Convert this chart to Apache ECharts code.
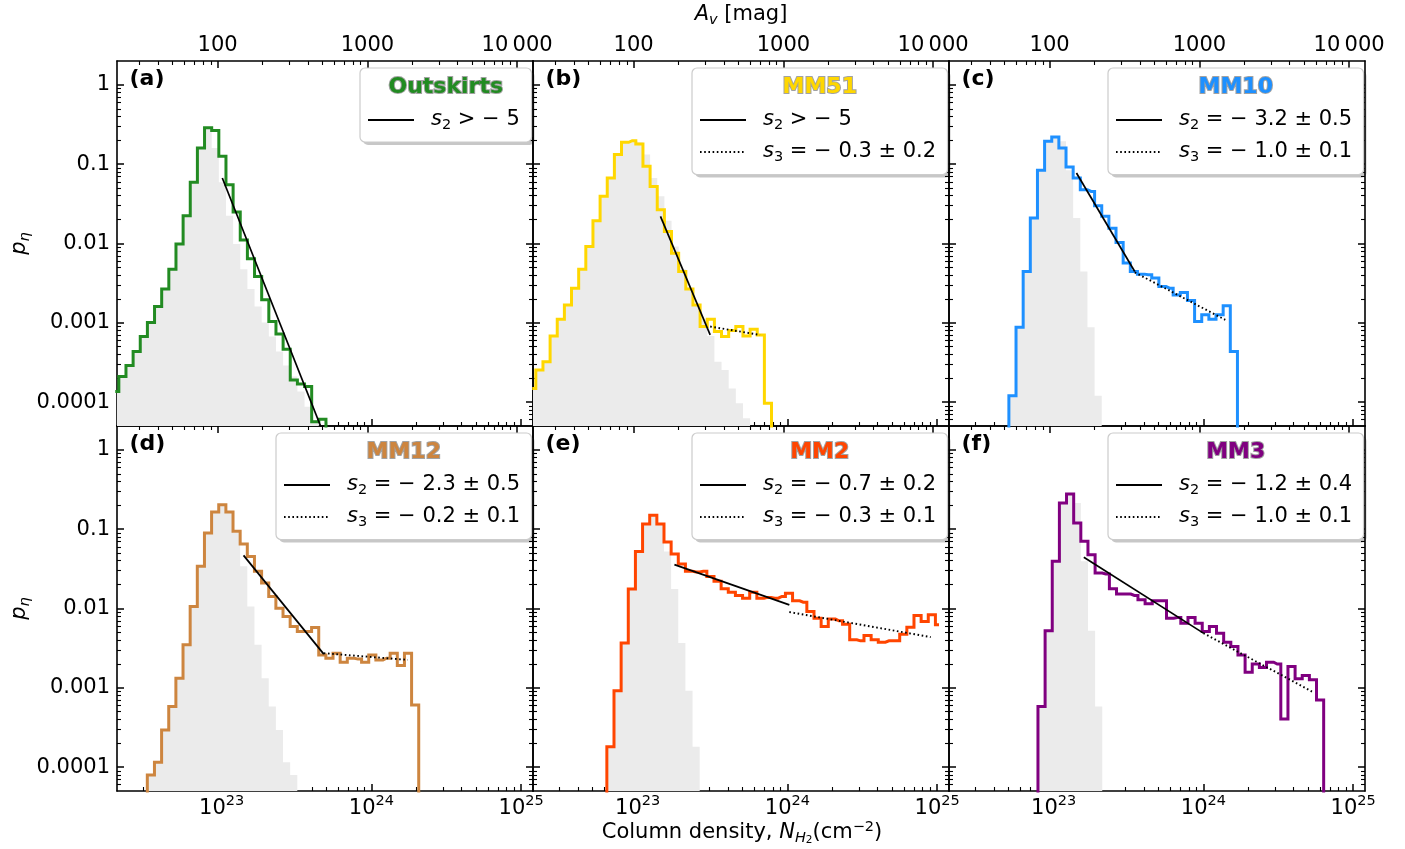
<!DOCTYPE html>
<html><head><meta charset="utf-8">
<script src="https://cdn.jsdelivr.net/npm/echarts@6/dist/echarts.min.js"></script>
<style>html,body{margin:0;padding:0;background:#fff}#chart{width:1405px;height:849px}</style>
</head><body><div id="chart"></div>
<script>
// ================= DATA =================
const regionNames   = ['Outskirts', 'MM51', 'MM10', 'MM12', 'MM2', 'MM3'];
const panelLetters  = ['(a)', '(b)', '(c)', '(d)', '(e)', '(f)'];
const regionColors  = ['#228B22', '#FFD700', '#1E90FF', '#CD853F', '#FF4500', '#800080'];
// histogram bins: width in dex, and log10 N of the centre of the first listed bin
const binWidthDex    = 0.0477;
const firstBinCentre = [22.2894, 22.2960, 22.6771, 22.4796, 22.7704, 22.8713];

// p_eta per bin (0 = empty bin)
const pdfOutskirts  = [0.000136,0.000210,0.000289,0.000434,0.000671,0.00101,0.00160,0.00266,0.00475,0.00983,0.0224,0.0590,0.160,0.287,0.265,0.126,0.0551,0.0249,0.0111,0.00642,0.00384,0.00195,0.00104,0.000725,0.000464,0.000190,0.000169,0.000157,0.0000567,0.0000607,0];
const grayOutskirts = [0.000136,0.000210,0.000289,0.000434,0.000671,0.00101,0.00160,0.00266,0.00475,0.00983,0.0224,0.0590,0.160,0.287,0.160,0.0590,0.0224,0.00983,0.00475,0.00266,0.00160,0.00101,0.000671,0.000434,0.000289,0.000210,0.000136,0.0000877,0.0000595,0];
const pdfMM51  = [0.000149,0.000254,0.000324,0.000684,0.00111,0.00168,0.00273,0.00475,0.00918,0.0194,0.0393,0.0669,0.132,0.189,0.198,0.180,0.0940,0.0525,0.0267,0.0142,0.00756,0.00444,0.00266,0.00168,0.000897,0.00111,0.000776,0.000671,0.000799,0.000897,0.000684,0.000830,0.000704,0.0000966,0];
const grayMM51 = [0.000149,0.000254,0.000324,0.000684,0.00111,0.00168,0.00273,0.00475,0.00918,0.0194,0.0393,0.0669,0.132,0.189,0.198,0.189,0.132,0.0669,0.0393,0.0194,0.00918,0.00475,0.00273,0.00168,0.00111,0.000684,0.000324,0.000254,0.000149,0.0000966,0.0000625,0];
const pdfMM10  = [0,0.000120,0.000880,0.00444,0.0209,0.0837,0.194,0.2205,0.160,0.0922,0.0669,0.0477,0.0454,0.0300,0.0220,0.0156,0.0103,0.00566,0.00444,0.00411,0.00403,0.00366,0.00287,0.00273,0.00225,0.00241,0.00191,0.00104,0.00126,0.00111,0.00126,0.00164,0.000434,0];
const grayMM10 = [0,0.000120,0.000880,0.00444,0.0209,0.0837,0.194,0.2205,0.194,0.0837,0.0209,0.00444,0.000880,0.000120,0];
const pdfMM12  = [0,0.0000796,0.000115,0.000294,0.000580,0.00132,0.00348,0.0106,0.0340,0.0895,0.165,0.204,0.165,0.0940,0.0650,0.0454,0.0294,0.0209,0.0142,0.0101,0.00794,0.00594,0.00513,0.00513,0.00577,0.00260,0.00236,0.00273,0.00210,0.00236,0.00230,0.00210,0.00260,0.00225,0.00236,0.00273,0.00191,0.00273,0.000609,0];
const grayMM12 = [0,0.0000796,0.000115,0.000294,0.000580,0.00132,0.00348,0.0106,0.0340,0.0895,0.165,0.204,0.165,0.0895,0.0340,0.0106,0.00348,0.00132,0.000580,0.000294,0.000115,0.0000796,0];
const pdfMM2   = [0,0.000181,0.000915,0.00366,0.0176,0.0525,0.1163,0.1497,0.1163,0.0689,0.0486,0.0364,0.0294,0.0288,0.0294,0.0254,0.0220,0.0177,0.0160,0.0146,0.0135,0.0160,0.0135,0.0138,0.0135,0.0142,0.0156,0.0125,0.0120,0.00918,0.00756,0.00594,0.00735,0.00700,0.00635,0.00403,0.00391,0.00457,0.00403,0.00376,0.00391,0.00391,0.00475,0.00582,0.00818,0.00687,0.00834,0.00623];
const grayMM2  = [0,0.000181,0.000915,0.00366,0.0176,0.0525,0.1163,0.1497,0.1163,0.0525,0.0176,0.00366,0.000915,0.000181,0];
const pdfMM3   = [0,0.000580,0.00524,0.0393,0.2142,0.2782,0.1198,0.0703,0.0477,0.0280,0.0272,0.0177,0.0152,0.0152,0.0146,0.0129,0.0115,0.0125,0.0125,0.00756,0.00771,0.00654,0.00771,0.00654,0.00513,0.00594,0.00489,0.00376,0.00332,0.00260,0.00157,0.00199,0.00180,0.00210,0.00199,0.000405,0.00186,0.00130,0.00143,0.00126,0.000704,0];
const grayMM3  = [0,0.000580,0.00524,0.0393,0.2142,0.2782,0.2142,0.0393,0.00524,0.000580,0];

// power-law fits: [N, p] end points
const s2Outskirts = [[1.01e23, 0.0670], [4.7e23, 4.4e-5]];
const s2MM51 = [[1.42e23, 0.0220], [3.05e23, 0.000704]];
const s3MM51 = [[3.05e23, 0.000897], [6.56e23, 0.000704]];
const s2MM10 = [[1.42e23, 0.0774], [3.48e23, 0.00444]];
const s3MM10 = [[3.48e23, 0.00432], [1.40e24, 0.00109]];
const s2MM12 = [[1.40e23, 0.0468], [4.81e23, 0.00266]];
const s3MM12 = [[4.81e23, 0.00273], [1.75e24, 0.00225]];
const s2MM2  = [[1.76e23, 0.0357], [1.03e24, 0.0111]];
const s3MM2  = [[1.03e24, 0.00902], [9.06e24, 0.00436]];
const s2MM3  = [[1.59e23, 0.0442], [1.00e24, 0.00489]];
const s3MM3  = [[1.00e24, 0.00489], [5.31e24, 0.000897]];

const legendS2 = ['> \u2212 5', '> \u2212 5', '= \u2212 3.2 \u00b1 0.5', '= \u2212 2.3 \u00b1 0.5', '= \u2212 0.7 \u00b1 0.2', '= \u2212 1.2 \u00b1 0.4'];
const legendS3 = [null, '= \u2212 0.3 \u00b1 0.2', '= \u2212 1.0 \u00b1 0.1', '= \u2212 0.2 \u00b1 0.1', '= \u2212 0.3 \u00b1 0.1', '= \u2212 1.0 \u00b1 0.1'];

// axes
const xTickValues  = [1e23, 1e24, 1e25];
const xTickExps    = ['23', '24', '25'];
const avTickValues = [100, 1000, 10000];
const avTickLabels = ['100', '1000', '10\u2009000'];
const yTickValues  = [1e-4, 1e-3, 1e-2, 1e-1, 1];
const yTickLabels  = ['0.0001', '0.001', '0.01', '0.1', '1'];
const N_MIN = 2e22, N_MAX = 1.2e25;      // column density range
const N_PER_AV = 9.4e20;                 // N_H2 per mag of A_v
const P_MIN = 5e-5, P_MAX = 2;

// ================= BUILD =================
const pdfs  = [pdfOutskirts, pdfMM51, pdfMM10, pdfMM12, pdfMM2, pdfMM3];
const grays = [grayOutskirts, grayMM51, grayMM10, grayMM12, grayMM2, grayMM3];
const s2s = [s2Outskirts, s2MM51, s2MM10, s2MM12, s2MM2, s2MM3];
const s3s = [null, s3MM51, s3MM10, s3MM12, s3MM2, s3MM3];

const FONT = 'DejaVu Sans';
const FS = 21;
const L0 = 117, T0 = 61, W = 416, H = 365;

function minorTicks(lo, hi) {
  const out = [];
  for (let e = Math.floor(Math.log10(lo)); e <= Math.ceil(Math.log10(hi)); e++) {
    for (let k = 2; k <= 9; k++) {
      const v = k * Math.pow(10, e);
      if (v > lo * 1.001 && v < hi * 0.999) out.push(v);
    }
  }
  return out;
}
function findIdx(v, arr) {
  for (let i = 0; i < arr.length; i++) if (Math.abs(Math.log10(v) - Math.log10(arr[i])) < 1e-6) return i;
  return -1;
}
const xMinor = minorTicks(N_MIN, N_MAX);
const avMinor = minorTicks(N_MIN / N_PER_AV, N_MAX / N_PER_AV);
const yMinor = minorTicks(P_MIN, P_MAX);

const lineAx = {show: true, onZero: false, lineStyle: {color: '#000', width: 1.6}};
const majTick = (vals) => ({show: true, inside: true, length: 7, lineStyle: {color: '#000', width: 1.5}, customValues: vals});
const minTick = (vals) => ({show: true, inside: true, length: 4, lineStyle: {color: '#000', width: 1.1}, customValues: vals});
const noLabel = {show: false};
const common = {splitLine: {show: false}, minorTick: {show: false}, minorSplitLine: {show: false}, silent: true};

const grids = [], xAxes = [], yAxes = [], series = [], graphics = [];

function mathRich() {
  return {
    n:   {fontFamily: FONT, fontSize: FS, lineHeight: 26, verticalAlign: 'middle', fill: '#000', color: '#000'},
    i:   {fontFamily: FONT, fontStyle: 'italic', fontSize: FS, lineHeight: 26, verticalAlign: 'middle', fill: '#000', color: '#000'},
    sub: {fontFamily: FONT, fontSize: 14.5, lineHeight: 15, verticalAlign: 'bottom', fill: '#000', color: '#000'},
    subi:{fontFamily: FONT, fontStyle: 'italic', fontSize: 14.5, lineHeight: 15, verticalAlign: 'bottom', fill: '#000', color: '#000'},
    sub2:{fontFamily: FONT, fontSize: 10.5, lineHeight: 10, verticalAlign: 'bottom', fill: '#000', color: '#000'},
    sup: {fontFamily: FONT, fontSize: 14.5, lineHeight: 15, verticalAlign: 'top', fill: '#000', color: '#000'}
  };
}

for (let p = 0; p < 6; p++) {
  const row = Math.floor(p / 3), col = p % 3;
  const left = L0 + col * W, top = T0 + row * H;
  grids.push({left: left, top: top, width: W, height: H, containLabel: false});

  // x bottom major
  xAxes.push(Object.assign({}, common, {
    type: 'log', logBase: 10, min: N_MIN, max: N_MAX, gridIndex: p, position: 'bottom', offset: 0,
    axisLine: lineAx, axisTick: majTick(xTickValues),
    axisLabel: {show: row === 1, customValues: xTickValues, margin: 3,
      formatter: function (v) { const i = findIdx(v, xTickValues); return i < 0 ? '' : '{b|10}{s|' + xTickExps[i] + '}'; },
      rich: {b: {fontFamily: FONT, fontSize: FS, lineHeight: 25, verticalAlign: 'bottom', color: '#000'},
             s: {fontFamily: FONT, fontSize: 14.5, lineHeight: 15, verticalAlign: 'top', color: '#000'}}}
  }));
  // x bottom minor
  xAxes.push(Object.assign({}, common, {
    type: 'log', logBase: 10, min: N_MIN, max: N_MAX, gridIndex: p, position: 'bottom', offset: 0,
    axisLine: {show: false}, axisTick: minTick(xMinor), axisLabel: noLabel
  }));
  // x top major (A_v)
  xAxes.push(Object.assign({}, common, {
    type: 'log', logBase: 10, min: N_MIN / N_PER_AV, max: N_MAX / N_PER_AV, gridIndex: p, position: 'top', offset: 0,
    axisLine: lineAx, axisTick: majTick(avTickValues),
    axisLabel: {show: row === 0, customValues: avTickValues, margin: 5, fontFamily: FONT, fontSize: FS, color: '#000',
      formatter: function (v) { const i = findIdx(v, avTickValues); return i < 0 ? '' : avTickLabels[i]; }}
  }));
  // x top minor
  xAxes.push(Object.assign({}, common, {
    type: 'log', logBase: 10, min: N_MIN / N_PER_AV, max: N_MAX / N_PER_AV, gridIndex: p, position: 'top', offset: 0,
    axisLine: {show: false}, axisTick: minTick(avMinor), axisLabel: noLabel
  }));
  // y left major / minor, right major / minor
  yAxes.push(Object.assign({}, common, {
    type: 'log', logBase: 10, min: P_MIN, max: P_MAX, gridIndex: p, position: 'left', offset: 0,
    axisLine: lineAx, axisTick: majTick(yTickValues),
    axisLabel: {show: col === 0, customValues: yTickValues, margin: 7, fontFamily: FONT, fontSize: FS, color: '#000',
      formatter: function (v) { const i = findIdx(v, yTickValues); return i < 0 ? '' : yTickLabels[i]; }}
  }));
  yAxes.push(Object.assign({}, common, {
    type: 'log', logBase: 10, min: P_MIN, max: P_MAX, gridIndex: p, position: 'left', offset: 0,
    axisLine: {show: false}, axisTick: minTick(yMinor), axisLabel: noLabel
  }));
  yAxes.push(Object.assign({}, common, {
    type: 'log', logBase: 10, min: P_MIN, max: P_MAX, gridIndex: p, position: 'right', offset: 0,
    axisLine: lineAx, axisTick: majTick(yTickValues), axisLabel: noLabel
  }));
  yAxes.push(Object.assign({}, common, {
    type: 'log', logBase: 10, min: P_MIN, max: P_MAX, gridIndex: p, position: 'right', offset: 0,
    axisLine: {show: false}, axisTick: minTick(yMinor), axisLabel: noLabel
  }));

  const xi = 4 * p, yi = 4 * p;
  const toPts = (vals) => vals.map((v, j) => [Math.pow(10, firstBinCentre[p] + j * binWidthDex), v > 0 ? v : 1e-9]);

  series.push({type: 'line', xAxisIndex: xi, yAxisIndex: yi, data: toPts(grays[p]), step: 'middle', symbol: 'none',
    lineStyle: {opacity: 0, width: 0}, areaStyle: {color: '#ebebeb', opacity: 1, origin: 'start'}, silent: true, z: 2});
  series.push({type: 'line', xAxisIndex: xi, yAxisIndex: yi, data: toPts(pdfs[p]), step: 'middle', symbol: 'none',
    lineStyle: {color: regionColors[p], width: 3, join: 'miter'}, silent: true, z: 3});
  series.push({type: 'line', xAxisIndex: xi, yAxisIndex: yi, data: s2s[p], symbol: 'none',
    lineStyle: {color: '#000', width: 1.7}, silent: true, z: 4});
  if (s3s[p]) series.push({type: 'line', xAxisIndex: xi, yAxisIndex: yi, data: s3s[p], symbol: 'none',
    lineStyle: {color: '#000', width: 1.9, type: [1.6, 2.6], cap: 'butt'}, silent: true, z: 4});

  // panel letter
  graphics.push({type: 'text', x: left + 12.5, y: top + 18, z: 20, silent: true,
    style: {text: panelLetters[p], fontFamily: FONT, fontWeight: 'bold', fontSize: 22, fill: '#000', align: 'left', verticalAlign: 'middle'}});

  // legend box
  const twoRows = !!legendS3[p];
  const bw = twoRows ? 255.5 : 171.5, bh = twoRows ? 106.5 : 74;
  const bx = left + W - 1.5 - bw, by = top + 7;
  graphics.push({type: 'rect', z: 20, silent: true, shape: {x: bx + 3, y: by + 3, width: bw, height: bh, r: 5}, style: {fill: 'rgba(0,0,0,0.22)'}});
  graphics.push({type: 'rect', z: 21, silent: true, shape: {x: bx, y: by, width: bw, height: bh, r: 5}, style: {fill: '#fff', stroke: '#cccccc', lineWidth: 1.2}});
  graphics.push({type: 'text', z: 22, silent: true, x: bx + bw / 2, y: by + 19,
    style: {text: regionNames[p], fontFamily: FONT, fontWeight: 'bold', fontSize: 22, fill: regionColors[p],
      stroke: 'rgba(70,70,70,0.5)', lineWidth: 2, strokeFirst: true, align: 'center', verticalAlign: 'middle'}});
  const rowsTxt = [['2', legendS2[p], null]];
  if (twoRows) rowsTxt.push(['3', legendS3[p], [1.6, 2.6]]);
  rowsTxt.forEach((r, k) => {
    const yy = by + 52 + k * 32;
    graphics.push({type: 'line', z: 22, silent: true, shape: {x1: bx + 8, y1: yy, x2: bx + 54, y2: yy},
      style: {stroke: '#000', lineWidth: r[2] ? 1.9 : 1.8, lineDash: r[2] || null, lineCap: 'butt'}});
    graphics.push({type: 'text', z: 22, silent: true, x: bx + 71, y: yy,
      style: {text: '{i|s}{sub|' + r[0] + '}{n| ' + r[1] + '}', align: 'left', verticalAlign: 'middle',
        rich: mathRich()}});
  });
}

// axis titles
graphics.push({type: 'text', z: 20, silent: true, x: 741, y: 15,
  style: {text: '{i|A}{subi|v}{n| [mag]}', align: 'center', verticalAlign: 'middle', rich: mathRich()}});
graphics.push({type: 'text', z: 20, silent: true, x: 742, y: 833,
  style: {text: '{n|Column density, }{i|N}{subi|H}{sub2|2}{n|(cm}{sup|\u22122}{n|)}', align: 'center', verticalAlign: 'middle', rich: mathRich()}});
[T0 + H / 2, T0 + H * 1.5].forEach(cy => {
  graphics.push({type: 'text', z: 20, silent: true, x: 20, y: cy, rotation: Math.PI / 2,
    style: {text: '{i|p}{subi|\u03b7}', align: 'center', verticalAlign: 'middle', rich: mathRich()}});
});

const chart = echarts.init(document.getElementById('chart'), null, {renderer: 'canvas', width: 1405, height: 849});
chart.setOption({
  animation: false,
  backgroundColor: '#ffffff',
  grid: grids,
  xAxis: xAxes,
  yAxis: yAxes,
  series: series,
  graphic: {elements: graphics}
});
</script>
</body></html>
